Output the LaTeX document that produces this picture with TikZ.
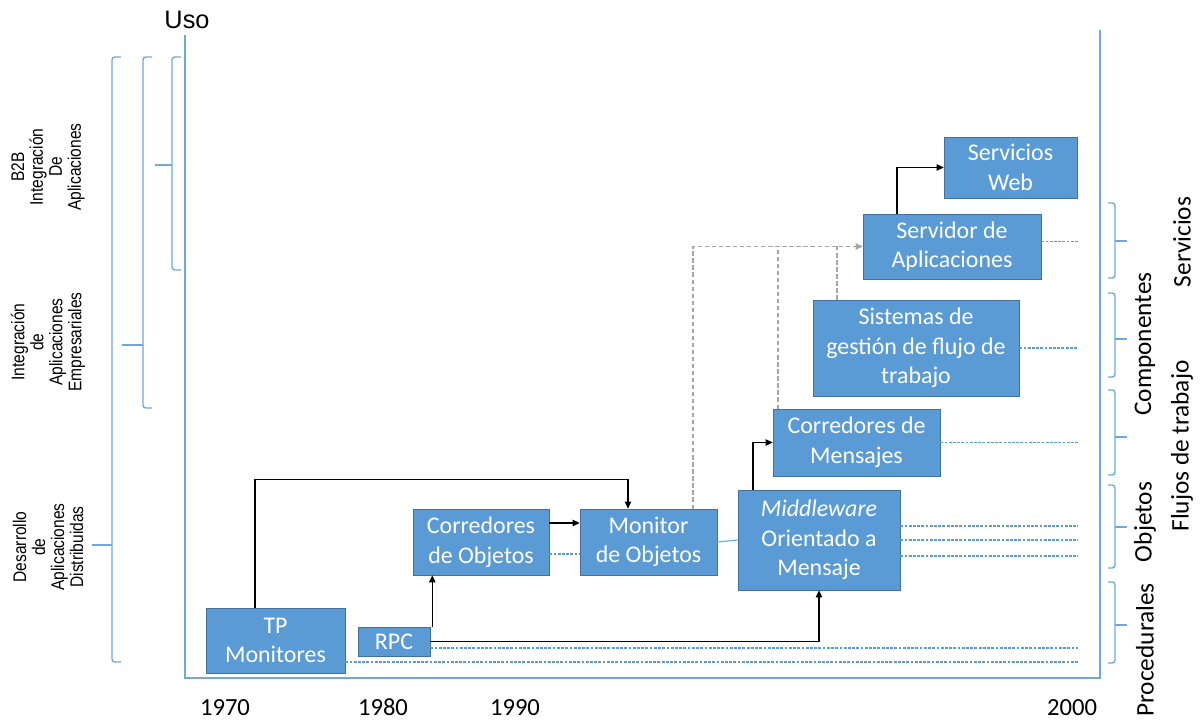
\documentclass[tikz,border=0pt]{standalone}
\usepackage{fontspec}
\usetikzlibrary{arrows.meta,calc}
\newfontfamily\boxfont{Carlito}
\newfontfamily\arialfont{Liberation Sans}
\newfontfamily\narrowfont{Liberation Sans}[FakeStretch=0.85]
\definecolor{boxfill}{HTML}{5B9BD5}
\definecolor{boxline}{HTML}{41719C}
\definecolor{axisblue}{HTML}{6FA8DC}
\definecolor{feedgray}{HTML}{A5A5A5}
\tikzset{
  box/.style={draw=boxline, fill=boxfill, text=white, align=center, inner sep=0pt,
    font=\boxfont\fontsize{17}{21}\selectfont},
  boxsize/.style 2 args={minimum width=#1*0.025cm, minimum height=#2*0.025cm},
  axis/.style={axisblue, line width=1pt},
  link/.style={black, line width=0.9pt, -{Triangle[length=5pt,width=4.5pt]}},
  trace/.style={boxfill, line width=0.8pt, dash pattern=on 2pt off 1pt},
  feed/.style={feedgray, line width=0.8pt, dash pattern=on 3pt off 2pt},
  era/.style={rotate=90, align=center, font=\narrowfont\fontsize{13}{13.5}\selectfont},
  style label/.style={rotate=90, inner sep=0pt, font=\boxfont\fontsize{18}{21}\selectfont},
  year/.style={anchor=base, inner sep=0pt, font=\boxfont\fontsize{17.5}{21}\selectfont}
}
\begin{document}
\begin{tikzpicture}[x=0.025cm, y=-0.025cm]
  \useasboundingbox (0,0) rectangle (1200,720);
  \draw [axis]
    (185,35)
    -- (185,678)
    -- (1100,678)
    -- (1100,30)
  ;
  \node [font=\arialfont\fontsize{18}{21}\selectfont] (uso) at (187,20) {Uso};
  \foreach \bx/\bm/\bb/\bt in {172/165/270/155, 143/345/408/122, 112/545/662/92}{
    \draw [axis, rounded corners=2pt] (\bx+9,57) -- (\bx,57) -- (\bx,\bb) -- (\bx+9,\bb);
    \draw [axis] (\bx,\bm) -- (\bt,\bm);
  }
  \foreach \by/\bm/\bb in {203/241/278, 293/339/377, 390/437/475, 485/527/568, 582/625/663}{
    \draw [axis, rounded corners=2pt] (1108,\by) -- (1115,\by) -- (1115,\bb) -- (1108,\bb);
    \draw [axis] (1115,\bm) -- (1127,\bm);
  }
  \node [era] (b2b) at (48,167) {B2B\\Integración\\De\\Aplicaciones};
  \node [era] (eai) at (48,342) {Integración\\de\\Aplicaciones\\Empresariales};
  \node [era] (dad) at (48,547) {Desarrollo\\de\\Aplicaciones\\Distribuidas};
  \node [style label] (servicios) at (1182,242) {Servicios};
  \node [style label] (componentes) at (1145,344) {Componentes};
  \node [style label] (flujos) at (1182,446) {Flujos de trabajo};
  \node [style label] (objetos) at (1145,522) {Objetos};
  \node [style label] (procedurales) at (1145,650) {Procedurales};
  \node [year] (y1970) at (225,715) {1970};
  \node [year] (y1980) at (383,715) {1980};
  \node [year] (y1990) at (515,715) {1990};
  \node [year] (y2000) at (1072,715) {2000};
  \node [box, boxsize={139}{65}] (TP) at (275.5,640.5) {TP\\Monitores};
  \node [box, boxsize={72}{29}] (RPC) at (394,641.5) {RPC};
  \node [box, boxsize={136}{66}] (CorObj) at (481,542) {Corredores\\de Objetos};
  \node [box, boxsize={137}{66}] (MonObj) at (648.5,542) {Monitor\\de Objetos};
  \node [box, boxsize={162}{100}] (MOM) at (819,540) {\textit{Middleware}\\Orientado a\\Mensaje};
  \node [box, boxsize={167}{67}] (CorMen) at (856.5,442.5) {Corredores de\\Mensajes};
  \node [box, boxsize={206}{96}] (WfMS) at (916,348) {Sistemas de\\gestión de flujo de\\trabajo};
  \node [box, boxsize={178}{65}] (AppServ) at (952,246.5) {Servidor de\\Aplicaciones};
  \node [box, boxsize={133}{61}] (WebServ) at (1010.5,167.5) {Servicios\\Web};
  \coordinate (edge) at (1078,0);
  \coordinate (as out) at ($(AppServ.east)+(0,-5)$);
  \coordinate (wf out) at (WfMS.east);
  \coordinate (cm out) at (CorMen.east);
  \coordinate (mom out 1) at ($(MOM.east)+(0,-14)$);
  \coordinate (mom out 2) at (MOM.east);
  \coordinate (mom out 3) at ($(MOM.east)+(0,16)$);
  \coordinate (rpc out) at ($(RPC.east)+(0,6.5)$);
  \coordinate (tp out) at ($(TP.east)+(0,21.5)$);
  \foreach \c in {as out, wf out, cm out, mom out 1, mom out 2, mom out 3, rpc out, tp out}{
    \draw [trace] (\c) -- (\c -| edge);
  }
  \draw [trace] ($(CorObj.east)+(0,12)$) -- ($(MonObj.west)+(0,12)$);
  \draw [axis, line width=0.8pt] (MonObj.east) -- (MOM.west);
  \draw [link]
    ($(TP.north)+(-20.5,0)$)
    -- ++(0,-128)
    -| ($(MonObj.north)+(-20.5,0)$)
  ;
  \draw [link] (RPC.east) -| (MOM.south);
  \coordinate (rpc up) at ($(RPC.north east)+(2,0)$);
  \draw [link] (rpc up) -- (rpc up |- CorObj.south);
  \draw [link] ($(CorObj.east)+(0,-19)$) -- ($(MonObj.west)+(0,-19)$);
  \draw [link] ($(MOM.north)+(-66,0)$) |- (CorMen.west);
  \draw [link] ($(AppServ.north)+(-55,0)$) |- (WebServ.west);
  \draw [feed, -{Triangle[length=5pt,width=4.5pt]}]
    ($(MonObj.north)+(44.5,0)$)
    |- (AppServ.west)
  ;
  \coordinate (cm up) at ($(CorMen.north)+(-78.5,0)$);
  \coordinate (wf up) at ($(WfMS.north)+(-79,0)$);
  \draw [feed] (cm up) -- (cm up |- AppServ.west);
  \draw [feed] (wf up) -- (wf up |- AppServ.west);
\end{tikzpicture}
\end{document}
